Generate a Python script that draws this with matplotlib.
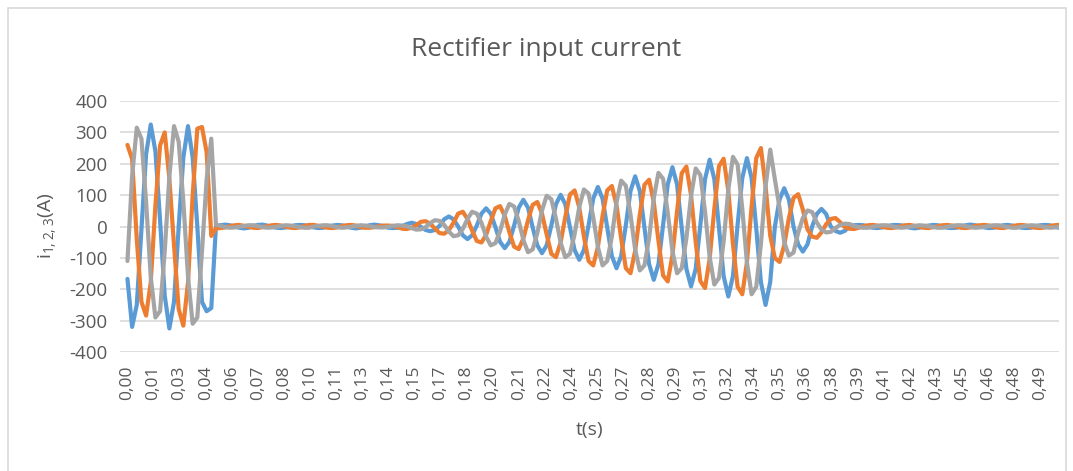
import numpy as np
import matplotlib
matplotlib.use("Agg")
import matplotlib.pyplot as plt
from matplotlib.patches import Rectangle

# ---------------- data ----------------
sample_step = 0.0025  # s between samples

blue = [
    -167, -320, -250, -10, 230, 325, 240, 20, -220, -325, -240, 0, 220, 320, 220, 0, -240, -270, -260,
    1, 4, 6, 4, 0, -4, -6, -4, 1, 5, 6, 3, -1, -4, -5, -3, 0, 4, 5, 4, 1, -3, -5, -4, 0, 3, 5, 4, 0, -4, -6, -4, 0, 4, 6, 4, 1,
    -4, -5, -4, 1, 8, 12, 8, -1,
    -11, -15, -11, 2, 23, 32, 23, 0,
    -28, -40, -28, 3, 41, 58, 41, -2,
    -49, -69, -49, 2, 60, 85, 60, -3,
    -60, -85, -60, 3, 71, 101, 71, -2,
    -75, -106, -75, 4, 89, 126, 89, -3,
    -94, -133, -94, 4, 113, 160, 113, -4,
    -120, -170, -120, 5, 134, 189, 134, -5,
    -135, -191, -135, 5, 151, 213, 151, -5,
    -158, -223, -158, 6, 154, 218, 154, -6,
    -177, -250, -177, 0, 86, 122, 86, 0,
    -57, -80, -57, 0, 40, 56, 40, 0,
    -14, -20, -14, 0, 4,
    5, 4, 0, -4, -5, -3, 0, 4, 5, 4, 1, -4, -6, -4, 0, 3, 5, 4, 0, -4, -5, -4, 1, 4, 6, 4, 0, -3, -5, -4,
    0, 4, 5, 3, 0, -4, -5, -4, 1, 4, 5, 4, 0, -4,
]

orange = [
    260, 215, -40, -240, -284, -178, 67, 258, 300, 152, -60, -263, -316, -178, 99, 312, 317, 237, -30,
    -6, -5, -3, 1, 4, 5, 2, -1, -4, -5, -2, 1, 4, 5, 3, -1, -4, -5, -3, 2, 5, 5, 2, -1, -4, -5, -3, 1, 4, 5, 3, -2, -4, -4, -2, 1, 3,
    3, 2, -2, -7, -8, -4, 4, 15,
    17, 9, -6, -21, -23, -12, 12, 41,
    47, 24, -13, -46, -51, -27, 17, 58,
    65, 34, -18, -64, -72, -38, 20, 69,
    78, 41, -25, -87, -98, -51, 30, 102,
    115, 61, -32, -110, -124, -65, 33, 115,
    129, 68, -38, -133, -149, -78, 38, 133,
    149, 78, -45, -156, -175, -92, 49, 170,
    191, 100, -50, -174, -196, -103, 56, 192,
    216, 114, -56, -192, -216, -114, 63, 218,
    250, 129, -29, -101, -113, -60, 26, 91,
    103, 54, -9, -32, -36, -19, 7, 24,
    27, 14, -2, -7, -8,
    -4, 1, 4, 5, 3, -1, -4, -5, -3, 1, 4, 5, 2, -1, -4, -5, -2, 1, 4, 5, 3, -1, -4, -5, -3, 2, 4, 5, 3, -1,
    -4, -5, -2, 1, 4, 5, 3, -1, -4, -5, -3, 1, 4, 5,
]

gray = [
    -110, 160, 315, 280, 80, -160, -290, -270, -80, 160, 320, 270, 80, -160, -310, -290, -80, 150, 280,
    6, 2, -2, -4, -3, -1, 2, 4, 4, 1, -2, -4, -3, -1, 2, 4, 3, 1, -2, -4, -4, 0, 2, 4, 4, 1, -2, -4, -3, -1, 2, 4, 3, 1, -2, -3, -3,
    -1, 2, 4, 3, 1, -5, -10, -9,
    -2, 11, 20, 18, 5, -16, -31, -28,
    -8, 24, 47, 41, 12, -32, -60, -53,
    -15, 38, 72, 64, 18, -43, -82, -73,
    -21, 51, 98, 87, 25, -51, -98, -87,
    -25, 62, 118, 105, 30, -65, -124, -110,
    -32, 77, 146, 130, 38, -73, -140, -124,
    -36, 90, 171, 152, 44, -78, -149, -133,
    -38, 97, 185, 164, 48, -97, -185, -164,
    -48, 117, 222, 197, 57, -114, -216, -192,
    -56, 127, 245, 150, 60, -49, -93, -83,
    -20, 27, 51, 46, 13, -10, -19, -17,
    -5, 5, 9, 8, 2,
    -2, -4, -4, -1, 2, 4, 4, 1, -2, -4, -3, -1, 2, 4, 3, 1, -2, -4, -4, -1, 2, 4, 4, 1, -2, -4, -3, -1, 2, 4,
    4, 1, -2, -4, -4, 0, 2, 4, 3, 1, -2, -4, -3, -1,
]

tick_step = 0.014
tick_labels = ["0,00", "0,01", "0,03", "0,04", "0,06", "0,07", "0,08", "0,10", "0,11", "0,13",
               "0,14", "0,15", "0,17", "0,18", "0,20", "0,21", "0,22", "0,24", "0,25", "0,27",
               "0,28", "0,29", "0,31", "0,32", "0,34", "0,35", "0,36", "0,38", "0,39", "0,41",
               "0,42", "0,43", "0,45", "0,46", "0,48", "0,49"]
y_ticks = [-400, -300, -200, -100, 0, 100, 200, 300, 400]
y_tick_labels = ["-400", "-300", "-200", "-100", "0", "100", "200", "300", "400"]

title = "Rectifier input current"
x_label = "t(s)"
y_label = r"$\mathregular{i_{1,2,3}(A)}$"

colors = ["#5B9BD5", "#ED7D31", "#A5A5A5"]
text_color = "#595959"
grid_color = "#D9D9D9"

plt.rcParams["font.family"] = ["Open Sans", "DejaVu Sans"]

W, H = 1073, 471
fig = plt.figure(figsize=(W / 100, H / 100), dpi=100)
fig.patch.set_facecolor("white")

# chart-area border
fig.patches.append(Rectangle((8 / W, -0.05), (1066 - 8) / W, 1 - 8 / H + 0.05,
                             transform=fig.transFigure, fill=False,
                             edgecolor=grid_color, lw=1.2))

left, right, top, bottom = 120, 1059, 101, 352
ax = fig.add_axes([left / W, 1 - bottom / H, (right - left) / W, (bottom - top) / H])

for vals, col in zip([blue, orange, gray], colors):
    ax.plot(np.arange(len(vals)) * sample_step, vals, color=col, lw=3.0,
            solid_joinstyle="round", solid_capstyle="round")

ax.set_xlim(-0.004, 0.5)
ax.set_ylim(-400, 400)
ax.set_yticks(y_ticks)
ax.set_yticklabels(y_tick_labels)
ax.set_xticks(np.arange(len(tick_labels)) * tick_step)
ax.set_xticklabels(tick_labels, rotation=90)
ax.yaxis.grid(True, color=grid_color, lw=1.2)
ax.set_axisbelow(True)
for s in ax.spines.values():
    s.set_visible(False)
ax.tick_params(axis="both", length=0, colors=text_color)
ax.tick_params(axis="y", labelsize=13.5, pad=9)
ax.tick_params(axis="x", labelsize=12.5, pad=10)

fig.text(546 / W, 1 - 50 / H, title, ha="center", va="center", fontsize=19, color=text_color)
fig.text(590 / W, 1 - 430 / H, x_label, ha="center", va="center", fontsize=14, color=text_color)
fig.text(48 / W, 1 - 226 / H, y_label, ha="center", va="center", rotation=90,
         fontsize=14, color=text_color)

fig.savefig("out.png", dpi=100)
